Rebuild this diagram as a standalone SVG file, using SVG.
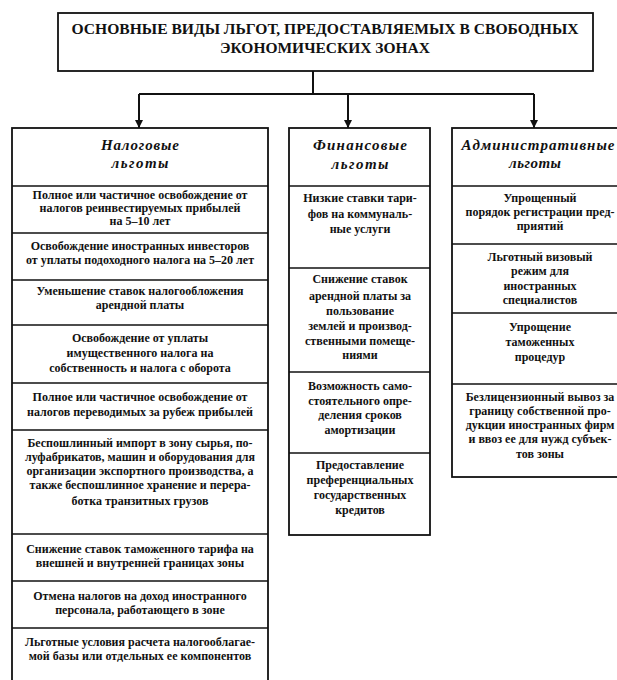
<svg xmlns="http://www.w3.org/2000/svg" width="617" height="680" viewBox="0 0 617 680">
<style>
.box{fill:#fff;stroke:#111;stroke-width:1.8}
.div{stroke:#111;stroke-width:1.3}
.conn{fill:none;stroke:#111;stroke-width:2}
text{font-family:"Liberation Serif","DejaVu Serif","Times New Roman",serif;font-weight:bold;fill:#111;text-anchor:middle}
.t{font-size:15.5px}
.h{font-size:15px;font-style:italic}
.b{font-size:12px}
</style>
<defs>
<marker id="arr" markerUnits="userSpaceOnUse" markerWidth="8" markerHeight="8" refX="8" refY="4" orient="auto">
<path d="M0,0 L8,4 L0,8 z" fill="#111"/>
</marker>
</defs>
<rect width="617" height="680" fill="#fff"/>
<g id="connectors">
<path class="conn" d="M313,71 V94"/>
<path class="conn" d="M139,94 H534"/>
<path class="conn" d="M139,94 V128" marker-end="url(#arr)"/>
<path class="conn" d="M348,94 V128" marker-end="url(#arr)"/>
<path class="conn" d="M534,94 V128" marker-end="url(#arr)"/>
</g>
<g id="title">
<rect class="box" x="58" y="13" width="535" height="58"/>
<text class="t" x="325" y="34" textLength="507" lengthAdjust="spacingAndGlyphs">ОСНОВНЫЕ ВИДЫ ЛЬГОТ, ПРЕДОСТАВЛЯЕМЫХ В СВОБОДНЫХ</text>
<text class="t" x="325" y="53" textLength="210" lengthAdjust="spacingAndGlyphs">ЭКОНОМИЧЕСКИХ ЗОНАХ</text>
</g>
<g id="tax">
<rect class="box" x="12" y="128" width="256" height="556"/>
<line class="div" x1="12" y1="186" x2="268" y2="186"/>
<line class="div" x1="12" y1="233" x2="268" y2="233"/>
<line class="div" x1="12" y1="280" x2="268" y2="280"/>
<line class="div" x1="12" y1="325" x2="268" y2="325"/>
<line class="div" x1="12" y1="383" x2="268" y2="383"/>
<line class="div" x1="12" y1="430" x2="268" y2="430"/>
<line class="div" x1="12" y1="534" x2="268" y2="534"/>
<line class="div" x1="12" y1="581" x2="268" y2="581"/>
<line class="div" x1="12" y1="628" x2="268" y2="628"/>
<text class="h" x="140" y="150" textLength="78" lengthAdjust="spacing">Налоговые</text>
<text class="h" x="140" y="168" textLength="57" lengthAdjust="spacing">льготы</text>
<text class="b" x="140" y="199">Полное или частичное освобождение от</text>
<text class="b" x="140" y="212">налогов реинвестируемых прибылей</text>
<text class="b" x="140" y="225">на 5–10 лет</text>
<text class="b" x="140" y="250">Освобождение иностранных инвесторов</text>
<text class="b" x="140" y="264">от уплаты подоходного налога на 5–20 лет</text>
<text class="b" x="140" y="295">Уменьшение ставок налогообложения</text>
<text class="b" x="140" y="309">арендной платы</text>
<text class="b" x="140" y="342">Освобождение от уплаты</text>
<text class="b" x="140" y="357">имущественного налога на</text>
<text class="b" x="140" y="372">собственность и налога с оборота</text>
<text class="b" x="140" y="401">Полное или частичное освобождение от</text>
<text class="b" x="140" y="416">налогов переводимых за рубеж прибылей</text>
<text class="b" x="140" y="447">Беспошлинный импорт в зону сырья, по-</text>
<text class="b" x="140" y="461">луфабрикатов, машин и оборудования для</text>
<text class="b" x="140" y="475">организации экспортного производства, а</text>
<text class="b" x="140" y="489">также беспошлинное хранение и перера-</text>
<text class="b" x="140" y="505">ботка транзитных грузов</text>
<text class="b" x="140" y="553">Снижение ставок таможенного тарифа на</text>
<text class="b" x="140" y="567">внешней и внутренней границах зоны</text>
<text class="b" x="140" y="600">Отмена налогов на доход иностранного</text>
<text class="b" x="140" y="614">персонала, работающего в зоне</text>
<text class="b" x="140" y="646">Льготные условия расчета налогооблагае-</text>
<text class="b" x="140" y="660">мой базы или отдельных ее компонентов</text>
</g>
<g id="finance">
<rect class="box" x="289" y="128" width="141" height="407"/>
<line class="div" x1="289" y1="186" x2="430" y2="186"/>
<line class="div" x1="289" y1="268" x2="430" y2="268"/>
<line class="div" x1="289" y1="372" x2="430" y2="372"/>
<line class="div" x1="289" y1="453" x2="430" y2="453"/>
<text class="h" x="360" y="150" textLength="94" lengthAdjust="spacing">Финансовые</text>
<text class="h" x="360" y="169" textLength="57" lengthAdjust="spacing">льготы</text>
<text class="b" x="360" y="202">Низкие ставки тари-</text>
<text class="b" x="360" y="218">фов на коммуналь-</text>
<text class="b" x="360" y="233">ные услуги</text>
<text class="b" x="360" y="283">Снижение ставок</text>
<text class="b" x="360" y="300">арендной платы за</text>
<text class="b" x="360" y="315">пользование</text>
<text class="b" x="360" y="330">землей и производ-</text>
<text class="b" x="360" y="345">ственными помеще-</text>
<text class="b" x="360" y="359">ниями</text>
<text class="b" x="360" y="390">Возможность само-</text>
<text class="b" x="360" y="405">стоятельного опре-</text>
<text class="b" x="360" y="419">деления сроков</text>
<text class="b" x="360" y="434">амортизации</text>
<text class="b" x="360" y="469">Предоставление</text>
<text class="b" x="360" y="484">преференциальных</text>
<text class="b" x="360" y="499">государственных</text>
<text class="b" x="360" y="514">кредитов</text>
</g>
<g id="admin">
<rect class="box" x="452" y="128" width="172" height="349"/>
<line class="div" x1="452" y1="186" x2="624" y2="186"/>
<line class="div" x1="452" y1="244" x2="624" y2="244"/>
<line class="div" x1="452" y1="313" x2="624" y2="313"/>
<line class="div" x1="452" y1="384" x2="624" y2="384"/>
<text class="h" x="538" y="150" textLength="153" lengthAdjust="spacing">Административные</text>
<text class="h" x="535" y="168" textLength="52" lengthAdjust="spacing">льготы</text>
<text class="b" x="540" y="202">Упрощенный</text>
<text class="b" x="540" y="216">порядок регистрации пред-</text>
<text class="b" x="540" y="230">приятий</text>
<text class="b" x="540" y="261">Льготный визовый</text>
<text class="b" x="540" y="275">режим для</text>
<text class="b" x="540" y="290">иностранных</text>
<text class="b" x="540" y="304">специалистов</text>
<text class="b" x="540" y="331">Упрощение</text>
<text class="b" x="540" y="346">таможенных</text>
<text class="b" x="540" y="361">процедур</text>
<text class="b" x="540" y="401">Безлицензионный вывоз за</text>
<text class="b" x="540" y="415">границу собственной про-</text>
<text class="b" x="540" y="429">дукции иностранных фирм</text>
<text class="b" x="540" y="443">и ввоз ее для нужд субъек-</text>
<text class="b" x="540" y="458">тов зоны</text>
</g>
</svg>
